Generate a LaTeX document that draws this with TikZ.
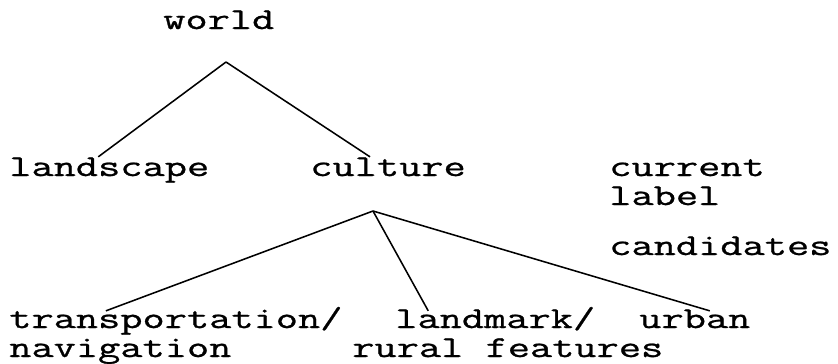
\documentclass[tikz,border=0pt]{standalone}
\usepackage{fontspec}
\newfontfamily\plotter[FakeStretch=1.42,FakeBold=0.9]{Latin Modern Mono}
\tikzset{
  word/.style={font=\plotter\fontsize{21.6pt}{20pt}\selectfont, inner sep=0pt, anchor=base west, text height=12pt, text depth=2pt},
  branch/.style={line width=1.1pt}
}

\begin{document}
\begin{tikzpicture}[x=0.025cm, y=-0.025cm]
\useasboundingbox (0,0) rectangle (838,363);

\node[word] (world) at (163,29) {world};
\node[word] (landscape) at (9,176) {landscape};
\node[word] (culture) at (310,176) {culture};
\node[word] (current) at (609,176) {current};
\node[word] (curlabel) at (609,205) {label};
\node[word] (candidates) at (609,255) {candidates};

\node[word] (transport) at (9,328) {transportation/};
\node[word] (navigation) at (9,357) {navigation};
\node[word] (landmark) at (395,328) {landmark/};
\node[word] (rural) at (352,357) {rural features};
\node[word] (urban) at (639,328) {urban};

\coordinate (W) at (226,62);
\coordinate (C) at (373,211);

\draw[branch] (W) -- ([xshift=-11*0.025cm, yshift=2*0.025cm]landscape.north);
\draw[branch] (W) -- ([xshift=-18*0.025cm, yshift=2*0.025cm]culture.north);
\draw[branch] (C) -- ([xshift=-70*0.025cm, yshift=0*0.025cm]transport.north);
\draw[branch] (C) -- ([xshift=-67*0.025cm, yshift=0*0.025cm]landmark.north);
\draw[branch] (C) -- ([xshift=15*0.025cm, yshift=0*0.025cm]urban.north);

\end{tikzpicture}
\end{document}
